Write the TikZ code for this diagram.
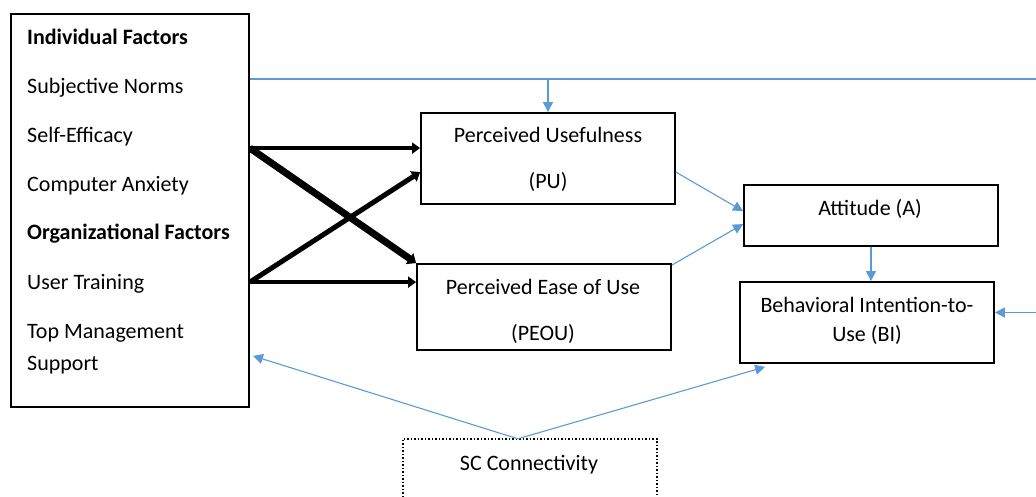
\documentclass[tikz,border=0pt]{standalone}
\usepackage{fontspec}
\setmainfont{Carlito}
\usetikzlibrary{arrows.meta,calc}
\definecolor{bl}{HTML}{5B9BD5}
\begin{document}
\begin{tikzpicture}[x=1pt,y=-1pt,
  box/.style={draw=black,line width=1.8pt,inner sep=0pt},
  lt/.style={anchor=base west,inner sep=0pt},
  ct/.style={anchor=base,inner sep=0pt},
  barrow/.style={draw=bl,line width=1.1pt,-{Triangle[length=10pt,width=10pt]}},
  bline/.style={draw=bl,line width=1.5pt},
  karrow/.style={draw=black,-{Triangle[length=8pt,width=11pt]}},
  font=\fontsize{22}{26}\selectfont]
\useasboundingbox (0,0) rectangle (1036,497);
% boxes
\node[box,minimum width=238pt,minimum height=393pt] (ind) at (130,210.5) {};
\node[box,minimum width=254pt,minimum height=91pt] (pu) at (548,158.5) {};
\node[box,minimum width=254pt,minimum height=86pt] (peou) at (544,307) {};
\node[box,minimum width=254pt,minimum height=61pt] (att) at (871,215.5) {};
\node[box,minimum width=254pt,minimum height=81pt] (bi) at (867,322.5) {};
\node[inner sep=0pt,minimum width=254pt,minimum height=58pt] (sc) at (530,468) {};
\draw[dotted,line width=1.5pt] (sc.south west) -- (sc.north west) -- (sc.north east) -- (sc.south east);
% left box texts
\node[lt,font=\fontsize{22}{26}\selectfont\bfseries] (t1) at (27,45) {Individual Factors};
\node[lt] (t2) at (27,94) {Subjective Norms};
\node[lt] (t3) at (27,143) {Self-Efficacy};
\node[lt] (t4) at (27,192) {Computer Anxiety};
\node[lt,font=\fontsize{22}{26}\selectfont\bfseries] (t5) at (27,240) {Organizational Factors};
\node[lt] (t6) at (27,289) {User Training};
\node[lt] (t7) at (27,338) {Top Management};
\node[lt] (t8) at (27,370) {Support};
% box texts
\node[ct] (pu1) at (548,143) {Perceived Usefulness};
\node[ct] (pu2) at (548,189) {(PU)};
\node[ct] (pe1) at (543,294) {Perceived Ease of Use};
\node[ct] (pe2) at (543,340) {(PEOU)};
\node[ct] (at1) at (870,215) {Attitude (A)};
\node[ct] (bi1) at (867,312) {Behavioral Intention-to-};
\node[ct] (bi2) at (867,341) {Use (BI)};
\node[ct] (sc1) at (529,470) {SC Connectivity};
% coordinates
\coordinate (l0) at ($(ind.north east)+(0,66)$);
\coordinate (r0) at ($(l0)+(790,0)$);
\coordinate (r1) at (1036,312.5);
\coordinate (a1) at ($(ind.north east)+(0,135)$);
\coordinate (a2) at ($(ind.north east)+(0,269)$);
\coordinate (pa) at ($(pu.north west)+(0,36)$);
\coordinate (pb) at ($(pu.north west)+(0,60)$);
\coordinate (ea) at ($(peou.north west)+(0,19)$);
% thick black arrows
\draw[karrow,line width=4pt] (a1) -- (pa);
\draw[karrow,line width=7pt,-{Triangle[length=8pt,width=13pt]}] (a1) -- (peou.north west);
\draw[karrow,line width=5pt,-{Triangle[length=8pt,width=12pt]}] (a2) -- (pb);
\draw[karrow,line width=4pt] (a2) -- (ea);
% blue connectors
\draw[bline] (l0) -- (r0);
\draw[barrow] (l0 -| pu.north) -- (pu.north);
\draw[barrow] (r1) -- (bi.east |- r1);
\draw[barrow] ($(pu.north east)+(0,60)$) -- ($(att.north west)+(0,27)$);
\draw[barrow] ($(peou.north east)+(0,2)$) -- ($(att.north west)+(0,40)$);
\draw[barrow] (att.south) -- (att.south |- bi.north);
\draw[barrow] ($(sc.north west)+(115,0)$) -- ($(ind.south east)+(3,-52)$);
\draw[barrow] ($(sc.north west)+(115,0)$) -- ($(bi.south west)+(26,3)$);
\end{tikzpicture}
\end{document}
